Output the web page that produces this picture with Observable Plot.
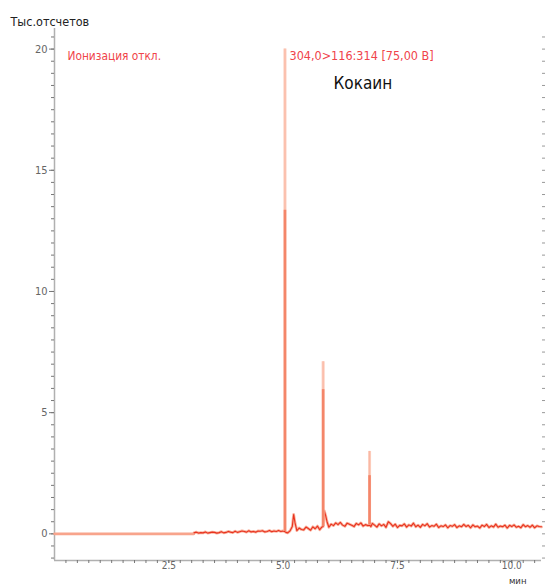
<!DOCTYPE html>
<html><head><meta charset="utf-8">
<script src="https://cdn.jsdelivr.net/npm/d3@7"></script>
<script src="https://cdn.jsdelivr.net/npm/@observablehq/plot@0.6"></script>
<style>body{margin:0;background:#fff}</style>
</head><body><div id="chart"></div>
<script>
// flat (ionisation off) baseline segment, minutes / thousand counts
const baseTime = [0, 3.05];
const baseCounts = [0, 0];
// noisy trace after 3.05 min (peaks drawn separately)
const traceTime = [3.05,3.10,3.15,3.20,3.25,3.30,3.35,3.40,3.45,3.50,3.55,3.60,3.65,3.70,3.75,3.80,3.85,3.90,3.95,4.00,4.05,4.10,4.15,4.20,4.25,4.30,4.35,4.40,4.45,4.50,4.55,4.60,4.65,4.70,4.75,4.80,4.85,4.90,4.95,5.00,5.03,5.06,5.10,5.15,5.20,5.23,5.26,5.30,5.35,5.40,5.45,5.50,5.55,5.60,5.65,5.70,5.75,5.80,5.84,5.875,5.90,5.93,5.96,6.00,6.05,6.10,6.15,6.20,6.25,6.30,6.35,6.40,6.45,6.50,6.55,6.60,6.65,6.70,6.75,6.80,6.85,6.89,6.92,6.95,7.00,7.05,7.10,7.15,7.20,7.25,7.30,7.35,7.40,7.45,7.50,7.55,7.60,7.65,7.70,7.75,7.80,7.85,7.90,7.95,8.00,8.05,8.10,8.15,8.20,8.25,8.30,8.35,8.40,8.45,8.50,8.55,8.60,8.65,8.70,8.75,8.80,8.85,8.90,8.95,9.00,9.05,9.10,9.15,9.20,9.25,9.30,9.35,9.40,9.45,9.50,9.55,9.60,9.65,9.70,9.75,9.80,9.85,9.90,9.95,10.00,10.05,10.10,10.15,10.20,10.25,10.30,10.35,10.40,10.45,10.50,10.55,10.60,10.65];
const traceCounts = [0.04,0.07,0.03,0.05,0.04,0.08,0.03,0.05,0.07,0.06,0.03,0.05,0.09,0.04,0.06,0.10,0.07,0.05,0.11,0.06,0.09,0.12,0.10,0.07,0.13,0.08,0.10,0.07,0.12,0.11,0.13,0.08,0.10,0.14,0.09,0.12,0.10,0.14,0.10,0.12,0.10,0.06,0.04,0.12,0.30,0.80,0.45,0.13,0.24,0.18,0.16,0.28,0.22,0.15,0.29,0.21,0.32,0.17,0.27,0.30,0.95,0.75,0.50,0.27,0.40,0.34,0.45,0.38,0.47,0.36,0.31,0.44,0.40,0.35,0.30,0.43,0.37,0.45,0.32,0.38,0.34,0.36,0.30,0.43,0.36,0.28,0.41,0.33,0.39,0.27,0.50,0.42,0.31,0.40,0.26,0.35,0.33,0.41,0.28,0.37,0.32,0.44,0.29,0.36,0.27,0.39,0.33,0.42,0.28,0.34,0.31,0.40,0.26,0.33,0.30,0.37,0.25,0.34,0.31,0.38,0.26,0.33,0.29,0.39,0.30,0.35,0.25,0.37,0.29,0.32,0.24,0.36,0.30,0.39,0.26,0.33,0.28,0.40,0.27,0.32,0.29,0.36,0.24,0.35,0.30,0.37,0.27,0.31,0.25,0.38,0.29,0.34,0.27,0.36,0.25,0.33,0.30,0.29];
// peaks: retention time, foot, apex, darker core height
const peakTime = [5.04, 5.875, 6.89];
const peakFoot = [0.10, 0.30, 0.36];
const peakApex = [20.0, 7.10, 3.40];
const peakCore = [13.35, 5.95, 2.40];
// axes
const yLabelTicks = [0, 5, 10, 15, 20];
const xLabelTicks = [2.5, 5.0, 7.5, 10.0];
const xTickText = ["2.5", "5.0", "7.5", "10.0"];
const yMinorTicks = d3.range(-1, 20.75, 0.5);
const xMinorTicks = d3.range(0.25, 10.65, 0.25);
const xDomain = [0, 10.65];
const yDomain = [-1.1, 20.85];

const base = baseTime.map((t, i) => ({t, v: baseCounts[i]}));
const trace = traceTime.map((t, i) => ({t, v: traceCounts[i]}));
const peaks = peakTime.map((t, i) => ({t, foot: peakFoot[i], apex: peakApex[i], core: peakCore[i]}));

const font = "'Liberation Sans Narrow','DejaVu Sans Condensed','Roboto Condensed','Liberation Sans',Arial,sans-serif";
const red = "#f0444a";

const chart = Plot.plot({
  width: 545, height: 585,
  marginLeft: 54, marginRight: 4, marginTop: 28, marginBottom: 25,
  style: {fontFamily: font, background: "#fff"},
  x: {domain: xDomain, axis: null},
  y: {domain: yDomain, axis: null},
  marks: [
    Plot.ruleX([0], {stroke: "#b0b0b0", strokeWidth: 1.5}),
    Plot.ruleY([yDomain[0]], {stroke: "#b0b0b0", strokeWidth: 1.5}),
    Plot.axisY(yMinorTicks, {anchor: "left", tickSize: 3, stroke: "#777", tickFormat: () => ""}),
    Plot.axisY(yLabelTicks, {anchor: "left", tickSize: 5, stroke: "#777", fill: "#666", fontSize: 11, tickPadding: 2, tickFormat: d => String(d), label: null}),
    Plot.axisY(yMinorTicks, {anchor: "right", tickSize: 3, stroke: "#999", tickFormat: () => "", label: null}),
    Plot.axisX(xMinorTicks, {anchor: "bottom", tickSize: 3, stroke: "#777", tickFormat: () => "", label: null}),
    Plot.axisX(xLabelTicks, {anchor: "bottom", tickSize: 3, stroke: "#777", fill: "#666", fontSize: 10, tickPadding: -2, tickFormat: (d, i) => xTickText[i], label: null}),
    Plot.line(base, {x: "t", y: "v", stroke: "#f8a48c", strokeWidth: 2.6}),
    Plot.line(trace, {x: "t", y: "v", stroke: "#f9b3a0", strokeWidth: 2.8, curve: "linear"}),
    Plot.line(trace, {x: "t", y: "v", stroke: "#e8321e", strokeWidth: 1.1}),
    Plot.ruleX(peaks, {x: "t", y1: "foot", y2: "apex", stroke: "#fcccbc", strokeWidth: 3}),
    Plot.ruleX(peaks, {x: "t", y1: "foot", y2: "apex", stroke: "#fab7a3", strokeWidth: 1}),
    Plot.ruleX(peaks, {x: "t", y1: "foot", y2: "core", stroke: "#f4866a", strokeWidth: 2.6}),
    Plot.text(["Тыс.отсчетов"], {frameAnchor: "top-left", dx: -44, dy: -11, textAnchor: "start", fill: "#222", fontSize: 12.5}),
    Plot.text(["Ионизация откл."], {frameAnchor: "top-left", dx: 13, dy: 23, textAnchor: "start", fill: red, fontSize: 11.8}),
    Plot.text(["304,0>116:314 [75,00 В]"], {frameAnchor: "top-left", dx: 235, dy: 23, textAnchor: "start", fill: red, fontSize: 12.5}),
    Plot.text(["Кокаин"], {frameAnchor: "top-left", dx: 279, dy: 55, lineAnchor: "middle", textAnchor: "start", fill: "#111", fontSize: 17}),
    Plot.text(["мин"], {frameAnchor: "bottom-right", dx: -15, dy: 23.5, lineAnchor: "bottom", textAnchor: "end", fill: "#333", fontSize: 9.5})
  ]
});
document.getElementById("chart").append(chart);
</script>
</body></html>
